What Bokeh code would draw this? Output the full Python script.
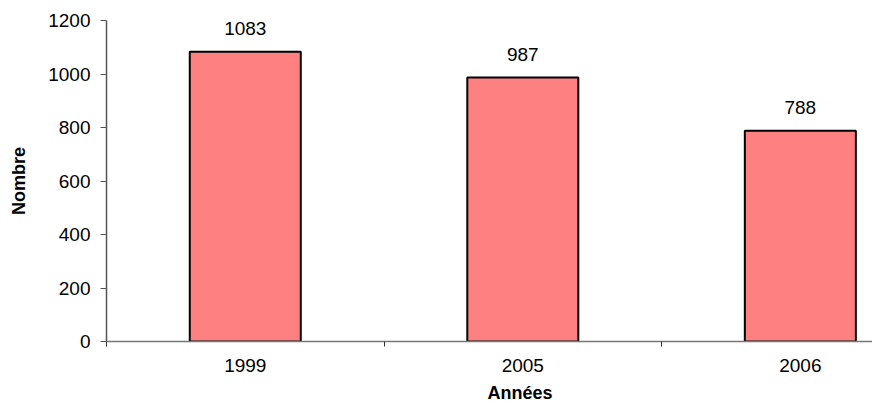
from bokeh.plotting import figure
from bokeh.models import Range1d, FixedTicker, Title
from bokeh.core.properties import value
from bokeh.embed import file_html
from bokeh.resources import INLINE

years = ["1999", "2005", "2006"]
counts = [1083, 987, 788]
y_ticks = [0, 200, 400, 600, 800, 1000, 1200]
x_title = "Années"
y_title = "Nombre"

centers = [i + 0.5 for i in range(len(years))]
bounds = [float(i) for i in range(len(years) + 1)]

FONT = "Liberation Sans"

p = figure(width=872, height=409, output_backend="svg", toolbar_location=None,
           x_range=Range1d(0, 2.76), y_range=Range1d(0, 1200),
           min_border_left=106, min_border_right=0, min_border_top=20, min_border_bottom=68)
p.outline_line_color = None
p.xgrid.visible = False
p.ygrid.visible = False
p.background_fill_color = "white"
p.border_fill_color = "white"

p.vbar(x=centers, top=counts, width=0.4, fill_color="#FF8080",
       line_color="black", line_width=2)

p.text(x=centers, y=counts, text=[str(c) for c in counts], text_align="center",
       text_baseline="middle", y_offset=-23, text_font=value(FONT),
       text_font_size="19px", text_color="black")

# x axis
xa = p.xaxis[0]
xa.ticker = FixedTicker(ticks=centers, minor_ticks=bounds)
xa.major_label_overrides = {c: y for c, y in zip(centers, years)}
xa.major_tick_out = 0
xa.major_tick_in = 0
xa.minor_tick_out = 5
xa.minor_tick_in = 0
xa.minor_tick_line_color = "#333333"
xa.axis_line_color = "#777777"
xa.axis_line_width = 1.5
xa.major_label_text_font = FONT
xa.major_label_text_font_size = "19px"
xa.major_label_text_color = "black"
xa.major_label_standoff = 12

# y axis
ya = p.yaxis[0]
ya.ticker = FixedTicker(ticks=y_ticks)
ya.major_tick_out = 6
ya.major_tick_in = 0
ya.minor_tick_out = 0
ya.minor_tick_in = 0
ya.major_tick_line_color = "#555555"
ya.axis_line_color = "#555555"
ya.axis_line_width = 1.5
ya.major_label_text_font = FONT
ya.major_label_text_font_size = "19px"
ya.major_label_text_color = "black"
ya.major_label_standoff = 10
ya.axis_label = y_title
ya.axis_label_text_font = FONT
ya.axis_label_text_font_size = "18px"
ya.axis_label_text_font_style = "bold"
ya.axis_label_text_color = "black"
ya.axis_label_standoff = 16

p.add_layout(Title(text=x_title, align="left", offset=381, standoff=12,
                   text_font=FONT, text_font_size="18px", text_font_style="bold",
                   text_color="black"), "below")

open("out.html", "w").write(file_html(p, INLINE))
